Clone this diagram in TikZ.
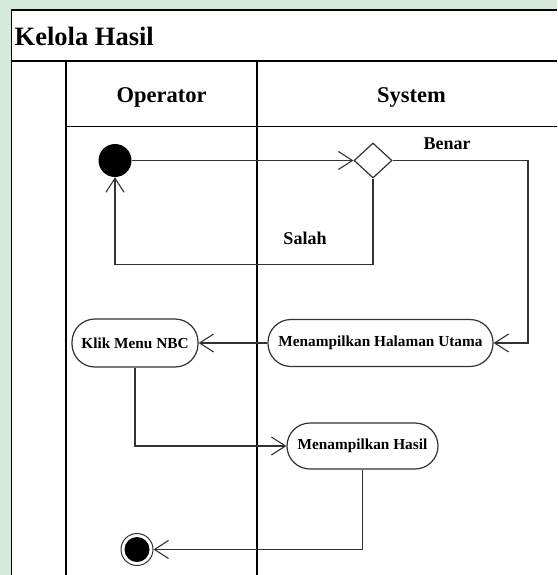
\documentclass[tikz,border=0pt]{standalone}
\usepackage{fontspec}
\setmainfont{Liberation Serif}
\usetikzlibrary{arrows.meta,shapes.geometric}
\definecolor{wmgreen}{RGB}{214,234,220}
\definecolor{lineg}{RGB}{50,50,50}
\tikzset{
  frame/.style={draw=black,line width=1.4pt},
  act/.style={draw=lineg,line width=1.2pt,rectangle,rounded corners=23pt,inner sep=0pt,font=\bfseries\fontsize{15.3}{17}\selectfont,fill=white},
  arr/.style={draw=lineg,line width=1.1pt,-{Straight Barb[length=14pt,width=18pt,line width=1.1pt]}},
  lbl/.style={font=\bfseries\fontsize{18}{20}\selectfont,inner sep=0pt},
  hdr/.style={font=\bfseries\fontsize{22.5}{24}\selectfont,inner sep=0pt},
}
\begin{document}
\begin{tikzpicture}[x=1pt,y=-1pt]
\useasboundingbox (0,0) rectangle (557,575);
\fill[wmgreen] (0,0) rectangle (557,575);
\fill[white] (11.5,10) rectangle (557,575);
% frame
\draw[frame] (11.5,575) -- (11.5,10) -- (557,10);
\draw[black,line width=2pt] (11.5,61) -- (557,61);
\draw[frame] (66,61) -- (66,575);
\draw[frame] (66,126.5) -- (557,126.5);
\draw[frame] (257,61) -- (257,575);
% texts
\node[anchor=west,font=\bfseries\fontsize{26.5}{28}\selectfont,inner sep=0pt] (title) at (14.5,36) {Kelola Hasil};
\node[hdr] (op) at (161.5,97) {Operator};
\node[hdr] (sys) at (411.5,97) {System};
% nodes
\node[circle,fill=black,minimum size=33pt,inner sep=0pt] (start) at (115,160.5) {};
\node[diamond,draw=lineg,line width=1.2pt,minimum width=38pt,minimum height=35pt,inner sep=0pt,fill=white] (dec) at (373,160.5) {};
\node[act,minimum width=225pt,minimum height=47pt] (mhu) at (380.5,343) {Menampilkan Halaman Utama};
\node[act,minimum width=126pt,minimum height=48pt] (klik) at (135,343) {Klik Menu NBC};
\node[act,minimum width=151pt,minimum height=46pt] (mh) at (362.5,446) {Menampilkan Hasil};
\node[circle,draw=lineg,line width=1pt,minimum size=32pt,inner sep=0pt] (end) at (137,549.5) {};
\node[circle,fill=black,minimum size=25pt,inner sep=0pt] (endin) at (end) {};
\node[lbl] (benar) at (447,143.5) {Benar};
\node[lbl] (salah) at (305,238.5) {Salah};
\coordinate (cb) at (528,160.5);
\coordinate (cs) at (115,264.5);
% connectors
\draw[arr] (start.east) -- (dec.west);
\draw[arr] (dec.east) -- (cb) |- (mhu.east);
\draw[arr] (dec.south) -- (dec.south |- cs) -- (cs) -- (start.south);
\draw[arr] (mhu.west) -- (klik.east);
\draw[arr] (klik.south) |- (mh.west);
\draw[arr] (mh.south) |- (end.east);
\end{tikzpicture}
\end{document}
